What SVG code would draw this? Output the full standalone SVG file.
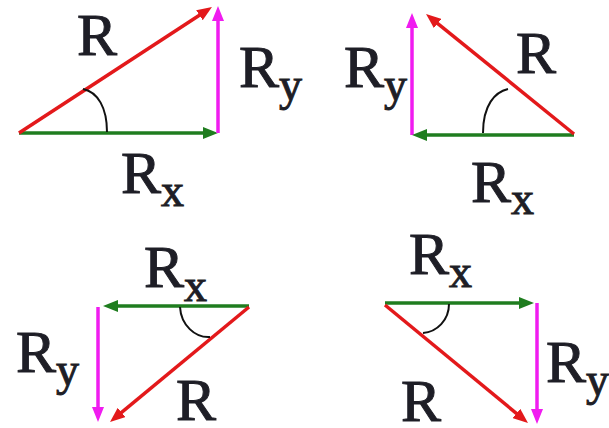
<svg xmlns="http://www.w3.org/2000/svg" width="609" height="428" viewBox="0 0 609 428">
<style>
.vr{stroke:#e3191b;stroke-width:3.5;fill:none;marker-end:url(#ar)}
.vg{stroke:#1f7d1f;stroke-width:3.5;fill:none;marker-end:url(#ag)}
.vm{stroke:#f01cf0;stroke-width:3.5;fill:none;marker-end:url(#am)}
.arc{stroke:#111;stroke-width:2;fill:none}
</style>
<defs>
<marker id="ar" markerUnits="userSpaceOnUse" markerWidth="15" markerHeight="12" refX="5" refY="6" orient="auto"><path d="M0,0 L15,6 L0,12 z" fill="#e3191b"/></marker>
<marker id="ag" markerUnits="userSpaceOnUse" markerWidth="15" markerHeight="12" refX="5" refY="6" orient="auto"><path d="M0,0 L15,6 L0,12 z" fill="#1f7d1f"/></marker>
<marker id="am" markerUnits="userSpaceOnUse" markerWidth="15" markerHeight="12" refX="5" refY="6" orient="auto"><path d="M0,0 L15,6 L0,12 z" fill="#f01cf0"/></marker>
</defs>
<rect width="609" height="428" fill="#fff"/>
<g id="connectors">
<line class="vg" x1="19" y1="133" x2="208" y2="133"/>
<line class="vm" x1="218" y1="133" x2="218" y2="16"/>
<line class="vr" x1="19" y1="133" x2="203.6" y2="12.5"/>
<path class="arc" d="M83,89 C98,92 107,108 107,132"/>

<line class="vm" x1="412" y1="135" x2="412" y2="23"/>
<line class="vg" x1="574" y1="135" x2="422" y2="135"/>
<line class="vr" x1="574" y1="134" x2="433.8" y2="20.3"/>
<path class="arc" d="M508,89 C495,92 483,105 483,133"/>

<line class="vg" x1="249" y1="306" x2="113" y2="306"/>
<line class="vm" x1="98" y1="307" x2="98" y2="412"/>
<line class="vr" x1="249" y1="307" x2="117.7" y2="415.6"/>
<path class="arc" d="M180,307 C181,325 195,338 210,337"/>

<line class="vg" x1="385" y1="303" x2="524" y2="303"/>
<line class="vm" x1="537" y1="303" x2="537" y2="414"/>
<line class="vr" x1="385" y1="305" x2="520.3" y2="416.6"/>
<path class="arc" d="M449,304 C449,320 437,332 423,333"/>
</g>
<g font-family="Liberation Serif" font-size="60" fill="#1e1e26" stroke="#1e1e26" stroke-width="1">
<g id="panel1">
<text x="77" y="55">R</text>
<text x="239" y="87">R<tspan font-size="46" dy="13">y</tspan></text>
<text x="121" y="193">R<tspan font-size="46" dy="13">x</tspan></text>
</g>
<g id="panel2">
<text x="516" y="73">R</text>
<text x="344" y="87">R<tspan font-size="46" dy="13">y</tspan></text>
<text x="471" y="202">R<tspan font-size="46" dy="12">x</tspan></text>
</g>
<g id="panel3">
<text x="144" y="287">R<tspan font-size="46" dy="14">x</tspan></text>
<text x="16" y="372">R<tspan font-size="46" dy="13">y</tspan></text>
<text x="176" y="420">R</text>
</g>
<g id="panel4">
<text x="409" y="274">R<tspan font-size="46" dy="13">x</tspan></text>
<text x="546" y="382">R<tspan font-size="46" dy="13">y</tspan></text>
<text x="401" y="421">R</text>
</g>
</g>
</svg>
